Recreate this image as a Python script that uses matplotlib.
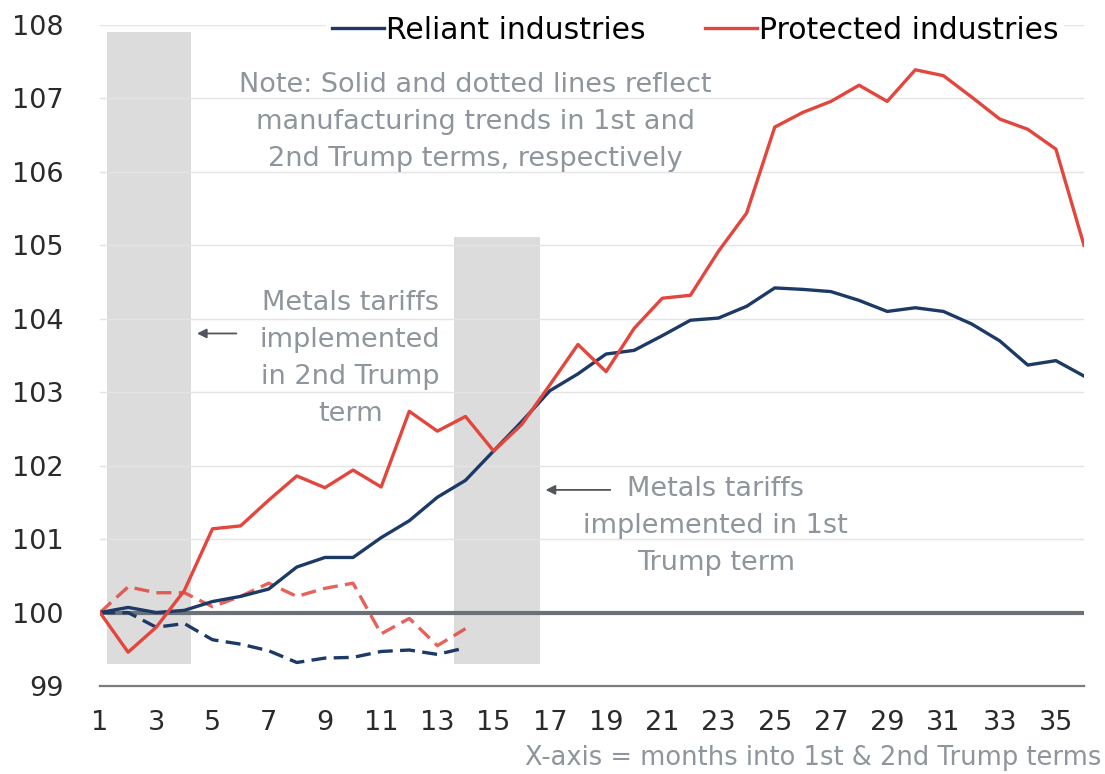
import numpy as np
import matplotlib.pyplot as plt

plt.rcParams['font.family'] = ['DejaVu Sans']

# months into the term
months = list(range(1, 37))

# 1st term (solid), 36 months
reliant_1st = [100.0, 100.07, 100.0, 100.03, 100.15, 100.22, 100.32, 100.62, 100.75, 100.75,
               101.02, 101.25, 101.57, 101.8, 102.2, 102.6, 103.02, 103.25, 103.52, 103.57,
               103.77, 103.98, 104.01, 104.17, 104.42, 104.4, 104.37, 104.25, 104.1, 104.15,
               104.1, 103.93, 103.7, 103.37, 103.43, 103.22]
protected_1st = [100.0, 99.46, 99.8, 100.3, 101.14, 101.18, 101.53, 101.86, 101.7, 101.94,
                 101.71, 102.74, 102.47, 102.67, 102.2, 102.56, 103.1, 103.65, 103.28, 103.87,
                 104.28, 104.32, 104.92, 105.44, 106.61, 106.81, 106.96, 107.18, 106.96, 107.39,
                 107.31, 107.02, 106.72, 106.58, 106.31, 105.0]

# 2nd term (dotted), 14 months so far
months_2nd = list(range(1, 15))
reliant_2nd = [100.0, 100.0, 99.8, 99.85, 99.63, 99.57, 99.48, 99.32, 99.38, 99.39,
               99.47, 99.49, 99.43, 99.52]
protected_2nd = [100.0, 100.35, 100.27, 100.27, 100.08, 100.22, 100.4, 100.22, 100.33, 100.4,
                 99.71, 99.92, 99.55, 99.78]

# shaded periods when metals tariffs were implemented: (start, end, top)
shade_spans = [(1.25, 4.25, 107.9), (13.6, 16.65, 105.12)]
shade_bottom = 99.3

NAVY = '#1d3a66'
RED = '#e2463d'
NOTE = '#8e959c'

fig = plt.figure(figsize=(11.05, 7.74), dpi=100)
ax = fig.add_axes([0.0905, 0.1137, 0.8905, 0.854])

for x0, x1, top in shade_spans:
    ax.fill_between([x0, x1], shade_bottom, top, color='#dcdcdd', lw=0, zorder=1)

for yv in range(101, 109):
    ax.axhline(yv, color='#e4e4e4', lw=1, zorder=1.5)
ax.axhline(100, color='#6b7176', lw=3, zorder=2)

l1, = ax.plot(months, reliant_1st, color=NAVY, lw=2.4, zorder=4, label='Reliant industries')
l2, = ax.plot(months, protected_1st, color=RED, lw=2.4, zorder=4, label='Protected industries')
ax.plot(months_2nd, reliant_2nd, color=NAVY, lw=2.4, ls=(0, (4.5, 2.2)), zorder=3)
ax.plot(months_2nd, protected_2nd, color=RED, lw=2.4, ls=(0, (4.5, 2.2)), alpha=0.85, zorder=3)

ax.set_xlim(1, 36)
ax.set_ylim(99, 108)
ax.set_xticks(range(1, 37, 2))
ax.set_yticks(range(99, 109))
ax.tick_params(axis='both', length=0, labelsize=19.5, colors='#2a2a2a')
ax.tick_params(axis='y', pad=26)
ax.tick_params(axis='x', pad=17)
for s in ['top', 'right', 'left']:
    ax.spines[s].set_visible(False)
ax.spines['bottom'].set_color('#7c7c7c')
ax.spines['bottom'].set_linewidth(1.6)

leg = ax.legend(handles=[l1, l2], loc='center right', bbox_to_anchor=(0.98, 0.992),
                ncol=2, fontsize=21.5, frameon=True, facecolor='white', edgecolor='none',
                framealpha=1, handlelength=1.75, handletextpad=0.05, columnspacing=2.0,
                borderpad=0.2, borderaxespad=0)
leg.set_zorder(6)

ax.text(14.35, 106.68, 'Note: Solid and dotted lines reflect\nmanufacturing trends in 1st and\n2nd Trump terms, respectively',
        ha='center', va='center', fontsize=19.5, color=NOTE, linespacing=1.55, zorder=5)
ax.text(9.9, 103.46, 'Metals tariffs\nimplemented\nin 2nd Trump\nterm',
        ha='center', va='center', fontsize=19.5, color=NOTE, linespacing=1.55, zorder=5)
ax.text(22.9, 101.18, 'Metals tariffs\nimplemented in 1st\nTrump term',
        ha='center', va='center', fontsize=19.5, color=NOTE, linespacing=1.55, zorder=5)

arrow = dict(arrowstyle='-|>', color='#50565b', lw=1.3, mutation_scale=14)
ax.annotate('', xy=(4.35, 103.8), xytext=(5.95, 103.8), arrowprops=arrow, zorder=5)
ax.annotate('', xy=(16.75, 101.67), xytext=(19.25, 101.67), arrowprops=arrow, zorder=5)

fig.text(0.997, 0.004, 'X-axis = months into 1st & 2nd Trump terms', ha='right', va='bottom',
         fontsize=18.5, color=NOTE)

fig.savefig('out.png', dpi=100)
